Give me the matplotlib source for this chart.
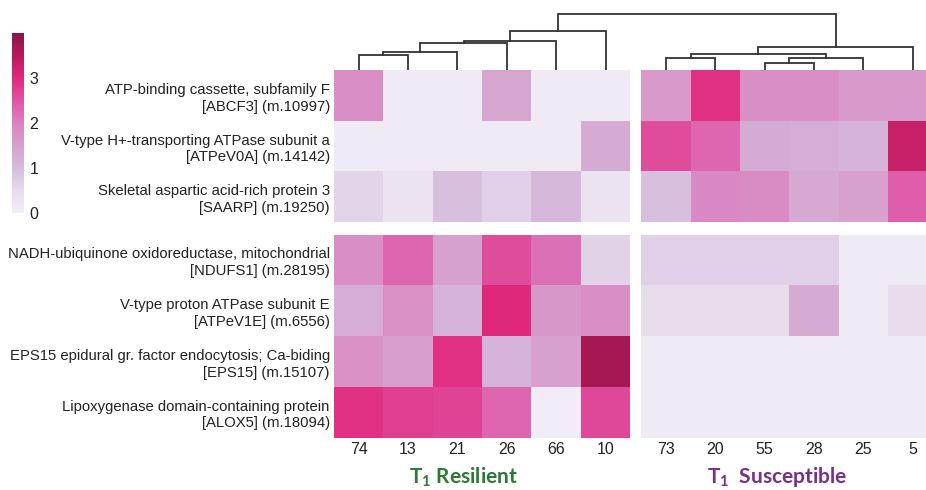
import matplotlib
matplotlib.use('Agg')
import matplotlib.pyplot as plt
from matplotlib.colors import LinearSegmentedColormap
import numpy as np

plt.rcParams['font.family'] = ['Liberation Sans', 'DejaVu Sans']
plt.rcParams['mathtext.fontset'] = 'custom'
plt.rcParams['mathtext.bf'] = 'Lato:bold'
plt.rcParams['mathtext.rm'] = 'Lato:bold'

genes = [
    'ATP-binding cassette, subfamily F\n[ABCF3] (m.10997)',
    'V-type H+-transporting ATPase subunit a\n[ATPeV0A] (m.14142)',
    'Skeletal aspartic acid-rich protein 3\n[SAARP] (m.19250)',
    'NADH-ubiquinone oxidoreductase, mitochondrial\n[NDUFS1] (m.28195)',
    'V-type proton ATPase subunit E\n[ATPeV1E] (m.6556)',
    'EPS15 epidural gr. factor endocytosis; Ca-biding\n[EPS15] (m.15107)',
    'Lipoxygenase domain-containing protein\n[ALOX5] (m.18094)',
]

resilient = ['74', '13', '21', '26', '66', '10']
susceptible = ['73', '20', '55', '28', '25', '5']

# expression values, rows = genes, columns = resilient then susceptible
vals_resilient = [
    [1.8, 0.1, 0.1, 1.4, 0.1, 0.1],
    [0.1, 0.1, 0.1, 0.1, 0.1, 1.3],
    [0.6, 0.3, 0.95, 0.7, 1.05, 0.3],
    [1.8, 2.3, 1.5, 2.6, 2.2, 0.65],
    [1.25, 1.75, 1.15, 3.0, 1.65, 1.8],
    [1.75, 1.55, 2.9, 1.15, 1.5, 3.7],
    [2.9, 2.75, 2.7, 2.3, 0.05, 2.65],
]
vals_susceptible = [
    [1.6, 2.9, 1.8, 1.8, 1.6, 1.6],
    [2.6, 2.3, 1.3, 1.25, 1.15, 3.3],
    [0.95, 1.9, 1.85, 1.35, 1.5, 2.4],
    [0.7, 0.7, 0.7, 0.7, 0.1, 0.1],
    [0.45, 0.45, 0.45, 1.3, 0.1, 0.45],
    [0.1, 0.1, 0.1, 0.1, 0.1, 0.1],
    [0.1, 0.1, 0.1, 0.1, 0.1, 0.1],
]

# column dendrogram: merges of (cluster a, cluster b, height); leaves 0..11, new ids from 12
merges = [
    (0, 1, 15), (12, 2, 17.7), (13, 3, 27.3), (14, 4, 29.3), (15, 5, 38.7),
    (8, 9, 6.7), (17, 10, 11.7), (6, 7, 12.3), (19, 18, 16), (20, 11, 23.3),
    (16, 21, 56),
]

vmin, vmax = 0, 4
cmap = LinearSegmentedColormap.from_list('pinks', [
    '#f2eef7', '#e6dbec', '#d5bbdc', '#d7a0cd', '#da82c0',
    '#df55a4', '#e0287c', '#b81a5c', '#8a1446'])

col_gap = 0.223
row_gap = 0.246
ncol = len(resilient)
xl = np.arange(ncol + 1)
xr = np.arange(ncol + 1) + ncol + col_gap
yt = np.arange(4)
yb = np.arange(5) + 3 + row_gap

data = np.hstack([np.array(vals_resilient), np.array(vals_susceptible)])

fig = plt.figure(figsize=(9.26, 4.9), dpi=100)
ax = fig.add_axes([334 / 926, 1 - 437.5 / 490, (937.4 - 334) / 926, 367.5 / 490])
for xe, cols in [(xl, slice(0, ncol)), (xr, slice(ncol, 2 * ncol))]:
    for ye, rows in [(yt, slice(0, 3)), (yb, slice(3, 7))]:
        mesh = ax.pcolormesh(xe, ye, data[rows, cols], cmap=cmap, vmin=vmin, vmax=vmax)
ax.set_xlim(0, 2 * ncol + col_gap)
ax.set_ylim(7 + row_gap, 0)
for s in ax.spines.values():
    s.set_visible(False)

centers = list((xl[:-1] + xl[1:]) / 2) + list((xr[:-1] + xr[1:]) / 2)
ax.set_xticks(centers)
ax.set_xticklabels(resilient + susceptible, fontsize=11.5, color='#222222')
rc = list((yt[:-1] + yt[1:]) / 2) + list((yb[:-1] + yb[1:]) / 2)
ax.set_yticks(rc)
ax.set_yticklabels(genes, fontsize=10.7, color='#222222', linespacing=1.25)
ax.tick_params(length=0, pad=3)

# dendrogram
dax = fig.add_axes([334 / 926, 1 - 70 / 490, (937.4 - 334) / 926, 60 / 490], sharex=ax)
dax.axis('off')
pos = {i: c for i, c in enumerate(centers)}
hgt = {i: 0 for i in range(len(centers))}
nid = len(centers)
for a, b, h in merges:
    xa, xb = pos[a], pos[b]
    dax.plot([xa, xa, xb, xb], [hgt[a], h, h, hgt[b]], color='#333333', lw=1.3,
             solid_joinstyle='miter')
    pos[nid] = (xa + xb) / 2
    hgt[nid] = h
    nid += 1
dax.set_ylim(0, 60)

# colorbar
cax = fig.add_axes([12 / 926, 1 - 213 / 490, 12 / 926, 180 / 490])
cb = fig.colorbar(mesh, cax=cax, ticks=[0, 1, 2, 3])
cb.outline.set_visible(False)
cax.yaxis.set_ticks_position('right')
cax.tick_params(length=0, labelsize=11.5, colors='#222222', pad=4)

fig.text(463 / 926, 1 - 477 / 490, r'T$_\mathbf{1}$ Resilient', color='#2b7a35',
         family='Lato', fontweight='bold', fontsize=15, ha='center', va='center')
fig.text(777 / 926, 1 - 477 / 490, r'T$_\mathbf{1}$  Susceptible', color='#7b2f8d',
         family='Lato', fontweight='bold', fontsize=15, ha='center', va='center')

fig.savefig('out.png', dpi=100)
